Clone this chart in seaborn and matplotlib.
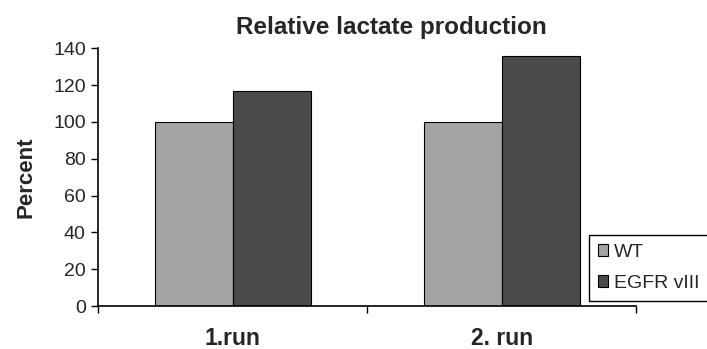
import matplotlib
matplotlib.use("Agg")
import matplotlib.pyplot as plt
import seaborn as sns
import pandas as pd
from matplotlib.patches import Patch

categories = ["1.run", "2. run"]
series_names = ["WT", "EGFR vIII"]
wt_values = [100, 100]
egfr_values = [117, 136]
yticks = [0, 20, 40, 60, 80, 100, 120, 140]
colors = ["#a3a3a3", "#4a4a4a"]

sns.set_style("white")
plt.rcParams['font.family'] = ['Liberation Sans', 'DejaVu Sans']

df = pd.DataFrame({
    "run": categories * 2,
    "series": [series_names[0]] * 2 + [series_names[1]] * 2,
    "value": wt_values + egfr_values,
})

fig = plt.figure(figsize=(7.07, 3.49), dpi=100)
ax = fig.add_axes([0.139, 0.123, 0.761, 0.739])
sns.barplot(data=df, x="run", y="value", hue="series", ax=ax,
            palette=colors, width=0.58,
            edgecolor="black", linewidth=0.8, saturation=1, legend=False)

ax.set_xlim(-0.5, 1.5)
ax.set_ylim(0, 140)
ax.set_yticks(yticks)
ax.set_yticklabels([str(t) for t in yticks], fontsize=14)
ax.set_xticks([-0.5, 0.5, 1.5], minor=False)
ax.set_xticklabels(["", "", ""])
ax.set_xticks([0, 1], minor=True)
ax.set_xticklabels(categories, minor=True, fontsize=16.5, fontweight="bold")
ax.tick_params(axis="x", which="minor", length=0, pad=15)
ax.tick_params(axis="x", which="major", length=5, width=1, direction="out", color="black", bottom=True)
ax.tick_params(axis="y", length=5, width=1, direction="out", color="black", left=True, pad=4)
ax.set_xlabel("")
ax.set_ylabel("Percent", fontsize=16, fontweight="bold", labelpad=12)
ax.set_title("Relative lactate production", fontsize=17.5, fontweight="bold", pad=10, x=0.545)
for s in ["top", "right"]:
    ax.spines[s].set_visible(False)
for s in ["left", "bottom"]:
    ax.spines[s].set_color("black")
    ax.spines[s].set_linewidth(1.2)

handles = [Patch(facecolor=colors[0], edgecolor="black", linewidth=0.8),
           Patch(facecolor=colors[1], edgecolor="black", linewidth=0.8)]
leg = fig.legend(handles, series_names, loc="upper left",
                 bbox_to_anchor=(0.833, 0.327), frameon=True, fancybox=False,
                 fontsize=14, handlelength=0.55, handleheight=0.55,
                 handletextpad=0.3, borderpad=0.45, labelspacing=0.75,
                 borderaxespad=0, edgecolor="black", framealpha=1)
leg.get_frame().set_linewidth(1.0)

fig.savefig("out.png", dpi=100)
